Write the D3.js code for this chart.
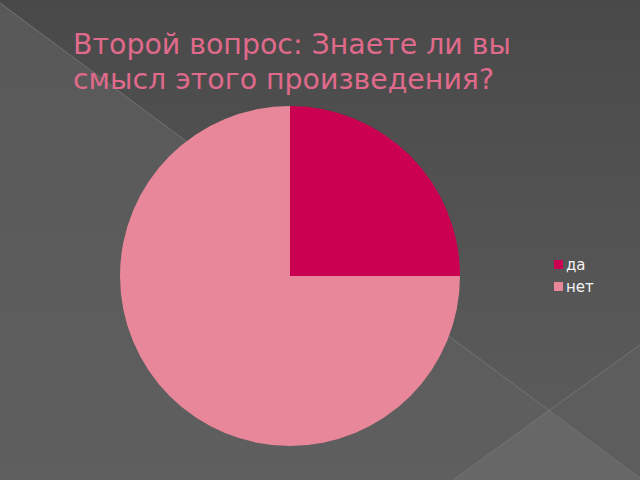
<!DOCTYPE html>
<html>
<head>
<meta charset="utf-8">
<script src="https://cdn.jsdelivr.net/npm/d3@7"></script>
<style>
  html, body { margin: 0; padding: 0; background: #4b4b4b; }
  svg { display: block; }
</style>
</head>
<body>
<div id="container"></div>
<script>
// Constants and globals
const width = 640,
  height = 480,
  radius = 170,
  center = { x: 290, y: 276 }

// data
const titleLines = ["Второй вопрос: Знаете ли вы", "смысл этого произведения?"]
const categories = ["да", "нет"]
const values = [25, 75]
const colors = ["#cc0050", "#e8879a"]

const data = categories.map((c, i) => ({ category: c, value: values[i] }))

const svg = d3.select("#container")
  .append("svg")
  .attr("width", width)
  .attr("height", height)

// background: slide-like gradient with diagonal facets
const defs = svg.append("defs")
const grad = defs.append("linearGradient")
  .attr("id", "bg")
  .attr("x1", 0).attr("y1", 0).attr("x2", 0).attr("y2", 1)
grad.append("stop").attr("offset", "0%").attr("stop-color", "#494949")
grad.append("stop").attr("offset", "100%").attr("stop-color", "#5e5e5e")

svg.append("rect")
  .attr("width", width)
  .attr("height", height)
  .attr("fill", "url(#bg)")

// lighter facet below the long diagonal
svg.append("path")
  .attr("d", "M0,3 L548,410 L453,480 L0,480 Z")
  .attr("fill", "#606060")
  .attr("opacity", 0.7)
// bottom facet under the cross
svg.append("path")
  .attr("d", "M453,480 L548,410 L640,478 L640,480 Z")
  .attr("fill", "#676767")
// right facet
svg.append("path")
  .attr("d", "M548,410 L640,345 L640,478 Z")
  .attr("fill", "#5d5d5d")

const lines = [
  [[0, 3], [640, 478]],
  [[453, 480], [640, 345]]
]
svg.selectAll("line.facet")
  .data(lines)
  .join("line")
  .attr("class", "facet")
  .attr("x1", d => d[0][0])
  .attr("y1", d => d[0][1])
  .attr("x2", d => d[1][0])
  .attr("y2", d => d[1][1])
  .attr("stroke", "#737373")
  .attr("stroke-width", 1)

// title
svg.append("g")
  .selectAll("text")
  .data(titleLines)
  .join("text")
  .attr("x", 73)
  .attr("y", (d, i) => 54 + i * 35)
  .attr("font-family", "DejaVu Sans, sans-serif")
  .attr("font-size", 28.4)
  .attr("fill", "#e06a8b")
  .text(d => d)

// pie
const pie = d3.pie()
  .value(d => d.value)
  .sort(null)

const arc = d3.arc()
  .innerRadius(0)
  .outerRadius(radius)

const colorScale = d3.scaleOrdinal()
  .domain(categories)
  .range(colors)

svg.append("g")
  .attr("transform", `translate(${center.x},${center.y})`)
  .selectAll("path")
  .data(pie(data))
  .join("path")
  .attr("d", arc)
  .attr("fill", d => colorScale(d.data.category))

// legend
const legend = svg.append("g")
  .attr("transform", "translate(554,260)")
  .selectAll("g")
  .data(categories)
  .join("g")
  .attr("transform", (d, i) => `translate(0,${i * 22})`)

legend.append("rect")
  .attr("width", 9)
  .attr("height", 9)
  .attr("fill", d => colorScale(d))

legend.append("text")
  .attr("x", 12)
  .attr("y", 10)
  .attr("font-family", "DejaVu Sans, sans-serif")
  .attr("font-size", 15)
  .attr("fill", "#f2f2f2")
  .text(d => d)
</script>
</body>
</html>
